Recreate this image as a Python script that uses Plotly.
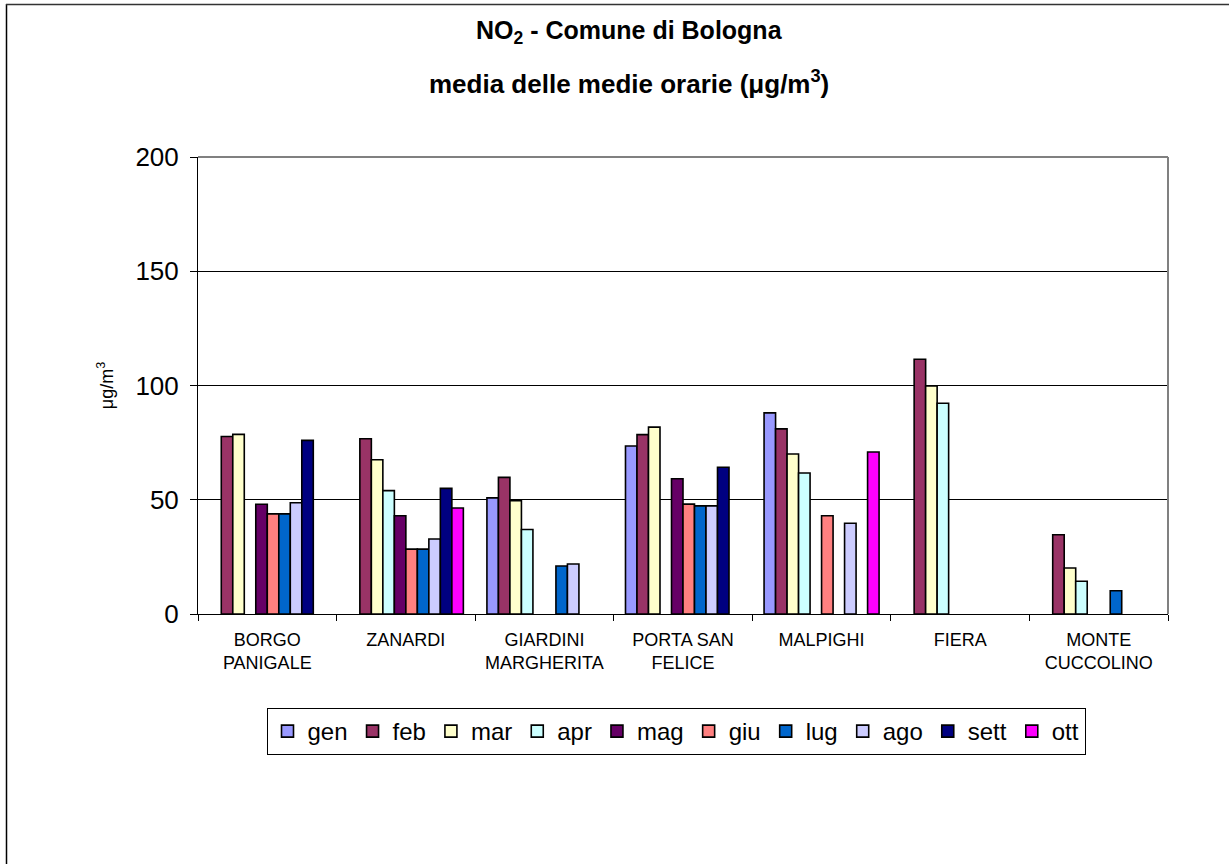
import plotly.graph_objects as go

stations = ["BORGO<br>PANIGALE", "ZANARDI", "GIARDINI<br>MARGHERITA", "PORTA SAN<br>FELICE",
            "MALPIGHI", "FIERA", "MONTE<br>CUCCOLINO"]
months = ["gen", "feb", "mar", "apr", "mag", "giu", "lug", "ago", "sett", "ott"]
colors = ["#9999FF", "#993366", "#FFFFCC", "#CCFFFF", "#660066", "#FF8080",
          "#0066CC", "#CCCCFF", "#000080", "#FF00FF"]

gen = [None, None, 50.8, 73.5, 88.0, None, None]
feb = [77.7, 76.7, 59.8, 78.5, 81.0, 111.5, 34.7]
mar = [78.6, 67.5, 49.6, 81.8, 70.0, 99.8, 20.1]
apr = [None, 54.0, 37.0, None, 61.7, 92.2, 14.3]
mag = [48.0, 43.0, None, 59.2, None, None, None]
giu = [43.8, 28.4, None, 48.1, 43.0, None, None]
lug = [43.8, 28.4, 21.0, 47.3, None, None, 10.2]
ago = [48.7, 32.8, 21.9, 47.3, 39.7, None, None]
sett = [76.0, 55.0, None, 64.2, None, None, None]
ott = [None, 46.4, None, None, 70.9, None, None]
series = [gen, feb, mar, apr, mag, giu, lug, ago, sett, ott]

FONT = "Arial, Liberation Sans, sans-serif"

fig = go.Figure()
for name, vals, col in zip(months, series, colors):
    fig.add_trace(go.Bar(
        x=stations, y=vals, name=name,
        marker=dict(color=col, line=dict(color="black", width=1.6)),
    ))

# plot area geometry (pixels)
L, R, T, B = 198, 1168, 157, 614
W, H = 1229, 864

def px(x):
    return (x - L) / (R - L)

def py(y):
    return (B - y) / (B - T)

fig.update_layout(
    width=W, height=H,
    margin=dict(l=L, r=W - R, t=T, b=H - B, pad=0),
    paper_bgcolor="white", plot_bgcolor="white",
    barmode="group", bargap=0.17, bargroupgap=0,
    font=dict(family=FONT, color="black"),
    showlegend=True,
    legend=dict(
        orientation="h", x=px(676), y=py(708), xanchor="center", yanchor="top",
        font=dict(size=24, family=FONT, color="black"),
        bordercolor="black", borderwidth=1, bgcolor="white",
        itemwidth=30, traceorder="normal",
    ),
    xaxis=dict(
        type="category", showline=True, linecolor="black", linewidth=1,
        ticks="outside", tickson="boundaries", ticklen=6, tickcolor="black",
        tickfont=dict(size=18, family=FONT, color="black"),
        ticklabelstandoff=9,
        showgrid=False,
    ),
    yaxis=dict(
        range=[0, 200], tickvals=[0, 50, 100, 150, 200],
        showline=True, linecolor="black", linewidth=1,
        ticks="outside", ticklen=7, tickcolor="black",
        tickfont=dict(size=26, family=FONT, color="black"),
        ticklabelstandoff=6,
        showgrid=True, gridcolor="black", gridwidth=1,
        zeroline=False,
        title=dict(text="μg/m<sup>3</sup>", font=dict(size=18, family=FONT, color="black"),
                   standoff=17),
    ),
    annotations=[
        dict(text="<b>NO<sub>2</sub> - Comune di Bologna</b>", xref="paper", yref="paper",
             x=px(629), y=py(32), xanchor="center", yanchor="middle", showarrow=False,
             font=dict(size=25, family=FONT, color="black")),
        dict(text="<b>media delle medie orarie (μg/m<sup>3</sup>)</b>", xref="paper", yref="paper",
             x=px(629), y=py(82), xanchor="center", yanchor="middle", showarrow=False,
             font=dict(size=26, family=FONT, color="black")),
    ],
    shapes=[
        # gray plot-area border top and right
        dict(type="line", xref="paper", yref="paper", x0=0, x1=1, y0=1, y1=1,
             line=dict(color="#808080", width=2)),
        dict(type="line", xref="paper", yref="paper", x0=1, x1=1, y0=0, y1=1,
             line=dict(color="#808080", width=2)),
        # outer chart border (left and top)
        dict(type="line", xref="paper", yref="paper", x0=px(6.5), x1=px(6.5), y0=py(4), y1=py(864),
             line=dict(color="black", width=1.5)),
        dict(type="line", xref="paper", yref="paper", x0=px(6), x1=px(1229), y0=py(4.5), y1=py(4.5),
             line=dict(color="#333333", width=1.5)),
    ],
)

fig.write_html("out.html", config={"displayModeBar": False},
               post_script="document.body.style.margin='0';document.body.style.padding='0';")
